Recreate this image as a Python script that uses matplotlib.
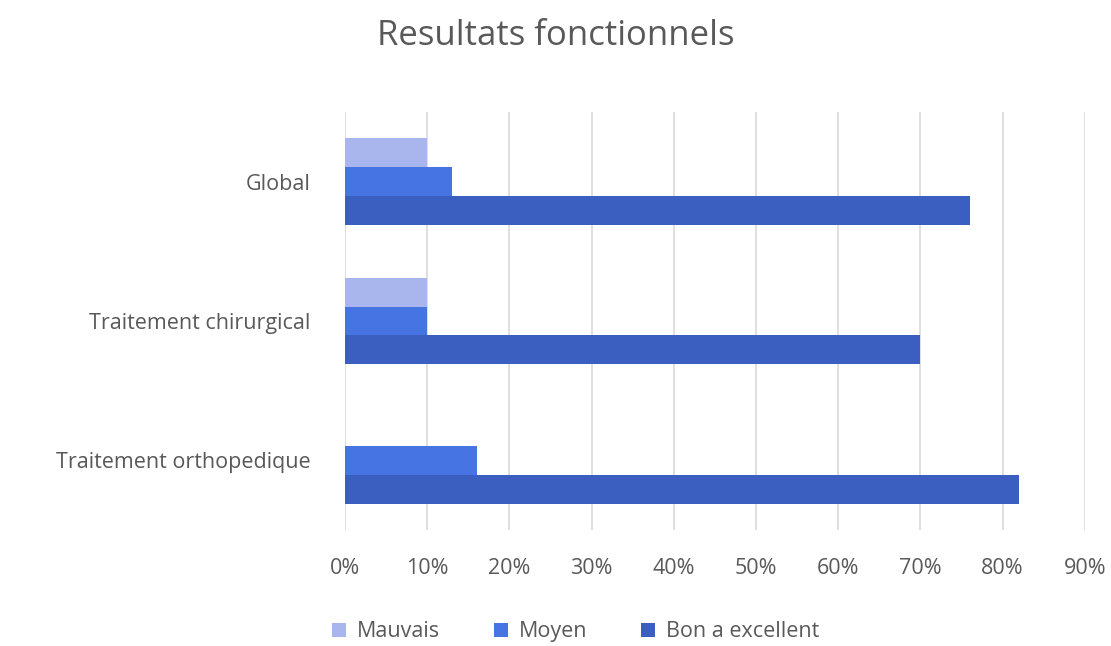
import matplotlib
matplotlib.use("Agg")
import matplotlib.pyplot as plt
import numpy as np
from matplotlib.ticker import FuncFormatter, MultipleLocator

plt.rcParams['font.family'] = ['Open Sans', 'DejaVu Sans']

categories = ["Traitement orthopedique", "Traitement chirurgical", "Global"]
series_names = ["Mauvais", "Moyen", "Bon a excellent"]
mauvais = [0, 10, 10]
moyen = [16, 10, 13]
bon = [82, 70, 76]
colors = ["#A9B6EE", "#4674E3", "#3A5FC0"]

fig = plt.figure(figsize=(11.11, 6.46), dpi=100)
ax = fig.add_axes([0.3105, 0.1796, 0.666, 0.647])

y = np.arange(len(categories))
h = 0.207
for vals, off, col, name in zip([mauvais, moyen, bon], [h, 0, -h], colors, series_names):
    ax.barh(y + off, vals, height=h, color=col, label=name, zorder=3, linewidth=0)

ax.set_xlim(0, 90)
ax.set_ylim(-0.5, 2.5)
ax.xaxis.set_major_locator(MultipleLocator(10))
ax.xaxis.set_major_formatter(FuncFormatter(lambda v, p: f"{v:.0f}%"))
ax.set_yticks(y)
ax.set_yticklabels(categories)
ax.grid(axis='x', color='#D9D9D9', linewidth=1.2, zorder=0)
for s in ax.spines.values():
    s.set_visible(False)
ax.tick_params(axis='both', length=0, labelsize=15.5, colors='#595959')
ax.tick_params(axis='x', pad=20)
ax.tick_params(axis='y', pad=25)

fig.suptitle("Resultats fonctionnels", fontsize=25, color='#595959', y=0.97)

leg = fig.legend(loc='center', bbox_to_anchor=(0.518, 0.022), ncol=3, frameon=False,
                 fontsize=15.5, handlelength=0.65, handleheight=0.65, columnspacing=2.5,
                 handletextpad=0.5, labelcolor='#595959')

fig.savefig("out.png", dpi=100)
